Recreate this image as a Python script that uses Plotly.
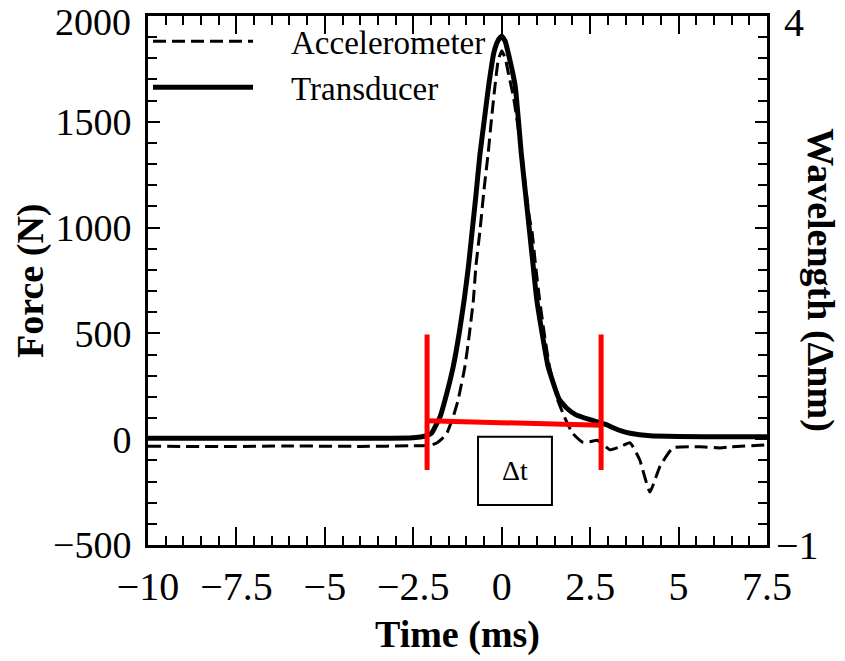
import plotly.graph_objects as go

# ---- data (time in ms, force in N) ----
trans_t = [-10, -7, -4, -2.6, -2.3, -2.1, -1.98, -1.74, -1.60, -1.37, -1.20, -1.06, -0.94, -0.84,
           -0.73, -0.62, -0.49, -0.37, -0.22, -0.1, 0.0, 0.1, 0.18, 0.38, 0.47, 0.55, 0.65,
           0.79, 0.89, 0.99, 1.14, 1.31, 1.62, 1.85, 2.1, 2.5, 2.8, 3.0, 3.15, 3.4, 3.63, 4.2, 5.0, 6.5, 7.5]
trans_f = [5, 5, 5, 6, 10, 18, 29, 107, 187, 344, 503, 660, 818, 977,
           1150, 1340, 1512, 1670, 1828, 1885, 1905, 1880, 1828, 1670, 1512, 1356, 1197,
           977, 818, 660, 503, 344, 190, 145, 115, 92, 77, 66, 54, 38, 28, 16, 13, 11, 11]

acc_t = [-10, -8, -6, -4, -2.5, -2.0, -1.84, -1.70, -1.55, -1.37, -1.23, -1.04, -0.91, -0.80,
         -0.73, -0.62, -0.50, -0.38, -0.29, -0.19, -0.1, 0.0, 0.1, 0.2, 0.33, 0.44, 0.56, 0.67,
         0.78, 0.86, 0.96, 1.07, 1.2, 1.35, 1.58, 1.77, 2.0, 2.3, 2.5, 2.7, 2.9, 3.06, 3.34,
         3.63, 3.9, 4.19, 4.47, 4.84, 5.6, 6.17, 6.5, 7.5]
acc_f = [-33, -35, -32, -34, -31, -28, -18, 0, 29, 107, 187, 344, 503, 660,
         818, 977, 1180, 1356, 1512, 1670, 1790, 1836, 1800, 1720, 1620, 1500, 1356, 1197,
         1050, 977, 818, 660, 503, 344, 187, 107, 29, -15, -12, -5, -30, -50, -36,
         -17, -97, -250, -130, -41, -36, -41, -36, -27]

# delta-t markers
dt_left_t = [-2.11, -2.11]
dt_left_f = [495, -145]
dt_right_t = [2.81, 2.81]
dt_right_f = [495, -145]
dt_bar_t = [-2.11, 2.81]
dt_bar_f = [87, 66]

# delta-t label box
box_t = [-0.67, 1.42]
box_f = [-311, 11]
box_label = "Δt"

x_ticks = [-10, -7.5, -5, -2.5, 0, 2.5, 5, 7.5]
x_labels = ["−10", "−7.5", "−5", "−2.5", "0", "2.5", "5", "7.5"]
y_ticks = [-500, 0, 500, 1000, 1500]
y_labels = ["−500", "0", "500", "1000", "1500"]
y_top_tick, y_top_label = 2000, "2000"
y2_ticks = [-1]
y2_labels = ["−1"]
y2_top_tick, y2_top_label = 4, "4"

SERIF = "Liberation Serif"
PAD = "\u00a0\u00a0\u00a0\u00a0"

fig = go.Figure()
fig.add_trace(go.Scatter(x=acc_t, y=acc_f, mode="lines", name=PAD + "Accelerometer",
                         line=dict(color="black", width=3, dash="13px,6px", shape="spline", smoothing=0.4)))
fig.add_trace(go.Scatter(x=trans_t, y=trans_f, mode="lines", name=PAD + "Transducer",
                         line=dict(color="black", width=5, shape="spline", smoothing=0.4)))
red = dict(color="#ff0000", width=5)
for xs, ys in [(dt_left_t, dt_left_f), (dt_right_t, dt_right_f), (dt_bar_t, dt_bar_f)]:
    fig.add_trace(go.Scatter(x=xs, y=ys, mode="lines", line=red, showlegend=False, hoverinfo="skip"))
# dummy trace for right axis
fig.add_trace(go.Scatter(x=[None], y=[None], yaxis="y2", showlegend=False))

fig.add_shape(type="rect", xref="x", yref="y", x0=box_t[0], x1=box_t[1], y0=box_f[0], y1=box_f[1],
              line=dict(color="black", width=2), fillcolor="white")
fig.add_annotation(x=(box_t[0] + box_t[1]) / 2, y=(box_f[0] + box_f[1]) / 2, xref="x", yref="y",
                   text=box_label, showarrow=False, font=dict(family=SERIF, size=28, color="black"))

# top tick labels (nudged down so they stay inside the page)
fig.add_annotation(x=0, y=y_top_tick, xref="paper", yref="y", text=y_top_label, showarrow=False,
                   xanchor="right", yanchor="middle", xshift=-15, yshift=-6,
                   font=dict(family=SERIF, size=38, color="black"))
fig.add_annotation(x=1, y=y2_top_tick, xref="paper", yref="y2", text=y2_top_label, showarrow=False,
                   xanchor="left", yanchor="middle", xshift=15, yshift=-6,
                   font=dict(family=SERIF, size=40, color="black"))

# axis titles
fig.add_annotation(x=-0.19, y=0.5, xref="paper", yref="paper", text="<b>Force (N)</b>", textangle=-90,
                   xanchor="center", yanchor="middle",
                   showarrow=False, font=dict(family=SERIF, size=38, color="black"))
fig.add_annotation(x=0.5, y=-0.17, xref="paper", yref="paper", text="<b>Time (ms)</b>",
                   xanchor="center", yanchor="middle",
                   showarrow=False, font=dict(family=SERIF, size=38, color="black"))
fig.add_annotation(x=1.086, y=0.5, xref="paper", yref="paper", text="<b>Wavelength (Δnm)</b>", textangle=90,
                   xanchor="center", yanchor="middle",
                   showarrow=False, font=dict(family=SERIF, size=38, color="black"))

fig.update_layout(
    width=845, height=661,
    margin=dict(l=148, r=78, t=16, b=116, autoexpand=False),
    paper_bgcolor="white", plot_bgcolor="white",
    font=dict(family=SERIF, color="black"),
    showlegend=True,
    legend=dict(x=0, y=1.005, xanchor="left", yanchor="top", bgcolor="rgba(0,0,0,0)",
                font=dict(family=SERIF, size=33, color="black"), itemwidth=100,
                tracegroupgap=0),
    xaxis=dict(range=[-10, 7.5], tickvals=x_ticks, ticktext=x_labels, ticks="inside", ticklen=18,
               tickwidth=2, tickcolor="black", showline=True, linewidth=3, linecolor="black",
               mirror="ticks", showgrid=False, zeroline=False, ticklabeloverflow="allow",
               automargin=False,
               tickfont=dict(family=SERIF, size=40, color="black"), ticklabelstandoff=4,
               minor=dict(dtick=0.5, ticks="inside", ticklen=9, tickwidth=1.5, tickcolor="black", showgrid=False)),
    yaxis=dict(range=[-500, 2000], tickvals=y_ticks, ticktext=y_labels, ticks="inside", ticklen=12,
               tickwidth=2, tickcolor="black", showline=True, linewidth=3, linecolor="black",
               mirror="ticks", showgrid=False, zeroline=False, ticklabeloverflow="allow",
               automargin=False,
               tickfont=dict(family=SERIF, size=38, color="black"), ticklabelstandoff=6,
               minor=dict(dtick=100, ticks="inside", ticklen=9, tickwidth=1.5, tickcolor="black", showgrid=False)),
    yaxis2=dict(range=[-1, 4], overlaying="y", side="right", tickvals=y2_ticks, ticktext=y2_labels,
                ticks="", showgrid=False, zeroline=False, showline=False, ticklabeloverflow="allow",
                automargin=False,
                tickfont=dict(family=SERIF, size=40, color="black"), ticklabelstandoff=8),
)

fig.write_html("out.html")
